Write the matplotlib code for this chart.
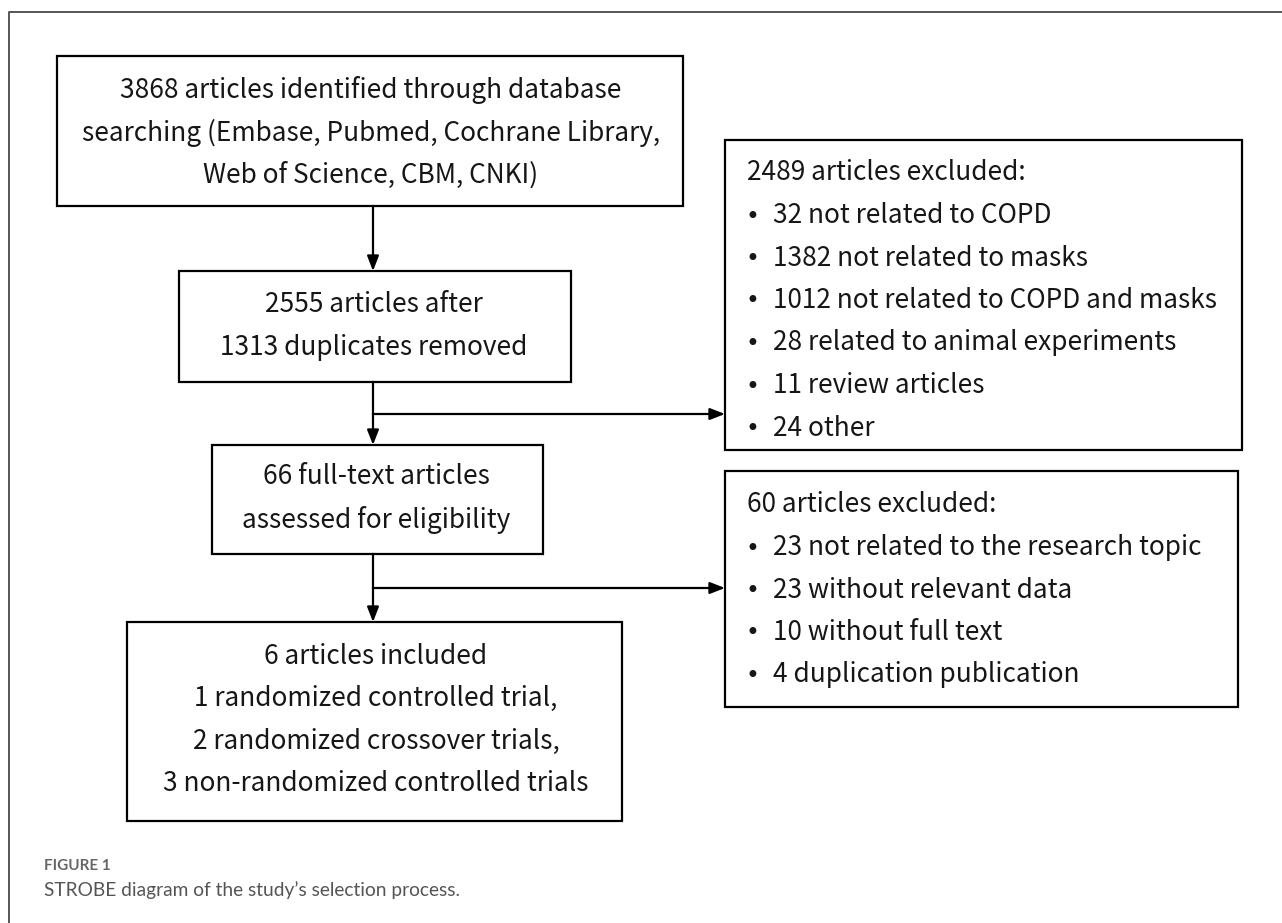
import matplotlib.pyplot as plt
from matplotlib.patches import Rectangle

# flow chart content
identified_lines = ['3868 articles identified through database',
                    'searching (Embase, Pubmed, Cochrane Library,',
                    'Web of Science, CBM, CNKI)']
dedup_lines = ['2555 articles after', '1313 duplicates removed']
fulltext_lines = ['66 full-text articles', 'assessed for eligibility']
included_lines = ['6 articles included',
                  '1 randomized controlled trial,',
                  '2 randomized crossover trials,',
                  '3 non-randomized controlled trials']
excl1_header = '2489 articles excluded:'
excl1_items = ['32 not related to COPD',
               '1382 not related to masks',
               '1012 not related to COPD and masks',
               '28 related to animal experiments',
               '11 review articles',
               '24 other']
excl2_header = '60 articles excluded:'
excl2_items = ['23 not related to the research topic',
               '23 without relevant data',
               '10 without full text',
               '4 duplication publication']
caption_label = 'FIGURE 1'
caption_text = 'STROBE diagram of the study\u2019s selection process.'

W, H = 1282, 923
fig = plt.figure(figsize=(W / 100, H / 100), dpi=100)
ax = fig.add_axes([0, 0, 1, 1])
ax.set_xlim(0, W)
ax.set_ylim(H, 0)
ax.axis('off')

font = ['Noto Sans CJK SC', 'DejaVu Sans']
fs = 18.9
lw = 1.6
line_gap = 42.5
txt_col = '#161616'


def box(x0, y0, x1, y1):
    ax.add_patch(Rectangle((x0, y0), x1 - x0, y1 - y0, fill=False,
                           edgecolor='black', linewidth=lw))


def centered(lines, xc, y_first):
    for i, s in enumerate(lines):
        ax.text(xc, y_first + i * line_gap, s, ha='center', va='center',
                fontsize=fs, family=font, color=txt_col)


def bulleted(header, items, x0, y_first):
    ax.text(x0, y_first, header, ha='left', va='center', fontsize=fs,
            family=font, color=txt_col)
    for i, s in enumerate(items):
        y = y_first + (i + 1) * line_gap
        ax.text(x0 + 5, y + 1, '\u2022', ha='center', va='center', fontsize=17,
                family='DejaVu Sans', color=txt_col)
        ax.text(x0 + 26, y, s, ha='left', va='center', fontsize=fs,
                family=font, color=txt_col)


def arrow(x0, y0, x1, y1):
    ax.annotate('', xy=(x1, y1), xytext=(x0, y0),
                arrowprops=dict(arrowstyle='-|>,head_length=0.9,head_width=0.35',
                                color='black', lw=lw, shrinkA=0, shrinkB=0))


# outer frame (open on right and bottom)
ax.plot([9, 9, W], [H, 12, 12], color='#555555', lw=1.4, solid_capstyle='butt')

xc = 373
# left column boxes
box(57, 56, 683, 206)
centered(identified_lines, xc - 2, 90)
box(179, 271, 571, 382)
centered(dedup_lines, xc + 1, 305)
box(212, 445, 543, 554)
centered(fulltext_lines, xc + 3, 477)
box(127, 622, 622, 821)
centered(included_lines, xc + 3, 656)

# right column boxes
box(725, 140, 1242, 450)
bulleted(excl1_header, excl1_items, 747, 173)
box(725, 471, 1238, 707)
bulleted(excl2_header, excl2_items, 747, 505)

# arrows
arrow(xc, 206, xc, 271)
ax.plot([xc, xc], [382, 414], color='black', lw=lw)
arrow(xc, 414, xc, 445)
arrow(xc, 414, 725, 414)
ax.plot([xc, xc], [554, 588], color='black', lw=lw)
arrow(xc, 588, xc, 622)
arrow(xc, 588, 725, 588)

# caption
ax.text(44, 866, caption_label, ha='left', va='center', fontsize=11,
        family=['Lato', 'DejaVu Sans'], color='#666666', fontweight='bold')
ax.text(44, 890, caption_text, ha='left', va='center', fontsize=13.8,
        family=['Lato', 'DejaVu Sans'], color='#555555')

fig.savefig('out.png', dpi=100, facecolor='white')
